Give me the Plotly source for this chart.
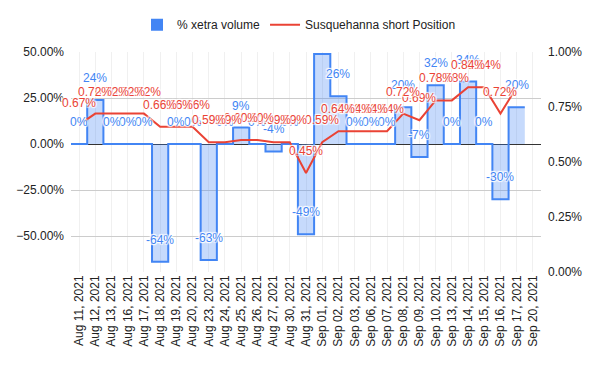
import plotly.graph_objects as go

dates = ["Aug 11, 2021", "Aug 12, 2021", "Aug 13, 2021", "Aug 16, 2021", "Aug 17, 2021",
         "Aug 18, 2021", "Aug 19, 2021", "Aug 20, 2021", "Aug 23, 2021", "Aug 24, 2021",
         "Aug 25, 2021", "Aug 26, 2021", "Aug 27, 2021", "Aug 30, 2021", "Aug 31, 2021",
         "Sep 01, 2021", "Sep 02, 2021", "Sep 03, 2021", "Sep 06, 2021", "Sep 07, 2021",
         "Sep 08, 2021", "Sep 09, 2021", "Sep 10, 2021", "Sep 13, 2021", "Sep 14, 2021",
         "Sep 15, 2021", "Sep 16, 2021", "Sep 17, 2021", "Sep 20, 2021"]

xetra_volume = [0.00, 0.24, 0.00, 0.00, 0.00, -0.64, 0.00, 0.00, -0.63, 0.00,
                0.09, 0.00, -0.04, 0.00, -0.49, 0.49, 0.26, 0.00, 0.00, 0.00,
                0.20, -0.07, 0.32, 0.00, 0.34, 0.00, -0.30, 0.20]

short_position = [0.0067, 0.0072, 0.0072, 0.0072, 0.0072, 0.0066, 0.0066, 0.0066, 0.0059, 0.0059,
                  0.0060, 0.0060, 0.0059, 0.0059, 0.0045, 0.0059, 0.0064, 0.0064, 0.0064, 0.0064,
                  0.0072, 0.0069, 0.0078, 0.0078, 0.0084, 0.0084, 0.0072, 0.0084]

left_ticks = [-0.5, -0.25, 0, 0.25, 0.5]
right_ticks = [0, 0.0025, 0.005, 0.0075, 0.01]

BLUE = "#4285f4"
RED = "#ea4335"
FONT = "Arial, Liberation Sans, sans-serif"
HALO = "1px 1px 1px #fff, -1px -1px 1px #fff, 1px -1px 1px #fff, -1px 1px 1px #fff, 0 0 2px #fff"

n_blue = len(xetra_volume)
idx_blue = list(range(n_blue))
idx_red = list(range(len(short_position)))

# stepped area: each value spans its category band
step_x = [i - 0.5 for i in idx_blue] + [n_blue - 0.5]
step_y = xetra_volume + [xetra_volume[-1]]

fig = go.Figure()
fig.add_trace(go.Scatter(
    x=step_x, y=step_y, mode="lines", line=dict(color=BLUE, width=2, shape="hv"),
    fill="tozeroy", fillcolor="rgba(66,133,244,0.3)", name="% xetra volume",
    hoverinfo="skip", yaxis="y", showlegend=False, legendgroup="a"))
# legend swatch for the stepped area
fig.add_trace(go.Scatter(
    x=[None], y=[None], mode="markers", name="% xetra volume", legendgroup="a",
    marker=dict(symbol="square", size=12, color=BLUE), hoverinfo="skip"))
fig.add_trace(go.Scatter(
    x=idx_red, y=short_position, mode="lines", line=dict(color=RED, width=2),
    name="Susquehanna short Position", hoverinfo="skip", yaxis="y2"))

annotations = []
# drawn right to left so that the leftmost label stays on top
for i, v in reversed(list(zip(idx_blue, xetra_volume))):
    if v + 0.12 > 0.5:
        continue  # label would fall outside the chart area
    annotations.append(dict(x=i, y=v, xref="x", yref="y", text=f"{v*100:.0f}%",
                            showarrow=False, yshift=22,
                            font=dict(family=FONT, size=12, color=BLUE, shadow=HALO)))
for i, v in reversed(list(zip(idx_red, short_position))[:-1]):  # last label not shown
    annotations.append(dict(x=i, y=v, xref="x", yref="y2", text=f"{v*100:.2f}%",
                            showarrow=False, yshift=22,
                            font=dict(family=FONT, size=12, color=RED, shadow=HALO)))

# the page body has an 8px margin, so the margins compensate for that offset
fig.update_layout(
    width=600, height=371,
    margin=dict(l=63, r=67, t=44, b=107, autoexpand=False),
    paper_bgcolor="white", plot_bgcolor="white",
    font=dict(family=FONT, size=12, color="#222222"),
    showlegend=True,
    legend=dict(orientation="h", xref="container", yref="container", x=0.485, y=0.955,
                xanchor="center", yanchor="middle", font=dict(size=12, color="#222222"),
                itemwidth=30, tracegroupgap=0),
    xaxis=dict(range=[-0.5, len(dates) - 0.5], tickvals=list(range(len(dates))), ticktext=dates,
               tickangle=-90, showgrid=True, gridcolor="#f0f0f0", zeroline=False,
               tickfont=dict(size=12, color="#222222"), fixedrange=True, automargin=False),
    yaxis=dict(range=[-0.6957, 0.5005], tickvals=left_ticks, tickformat=".2%",
               showgrid=True, gridcolor="#cccccc", zeroline=True, zerolinecolor="#333333",
               zerolinewidth=1, tickfont=dict(size=12, color="#222222"), ticklabelstandoff=6,
               automargin=False),
    yaxis2=dict(range=[0, 0.01], tickvals=right_ticks, tickformat=".2%", overlaying="y",
                side="right", showgrid=False, zeroline=False,
                tickfont=dict(size=12, color="#222222"), ticklabelstandoff=6, automargin=False),
    annotations=annotations,
)

fig.write_html("out.html")
